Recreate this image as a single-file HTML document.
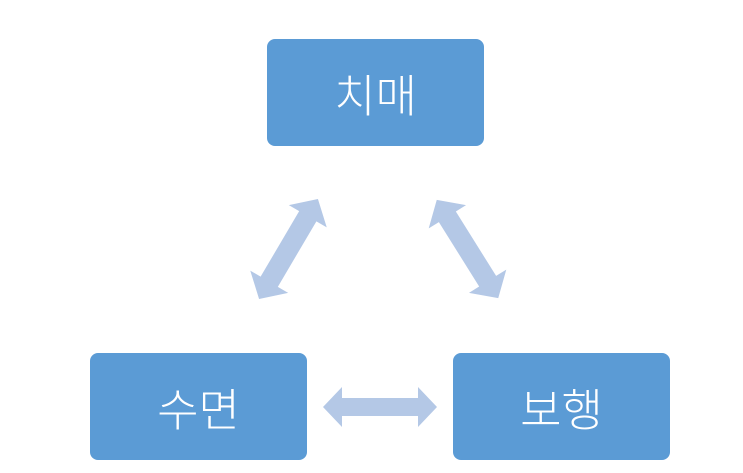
<!DOCTYPE html>
<html><head><meta charset="utf-8"><style>
body{margin:0;width:743px;height:473px;background:#fff;overflow:hidden;position:relative;font-family:"Noto Sans CJK KR","NanumGothic",sans-serif}
.b{position:absolute;width:217px;height:107px;background:#5B9BD5;border-radius:8px;color:#fff;font-size:45px;font-weight:300;display:flex;align-items:center;justify-content:center;line-height:1}
svg{position:absolute;left:0;top:0}
</style></head><body>
<div class="b" style="left:267px;top:39px">치매</div>
<div class="b" style="left:90px;top:353px">수면</div>
<div class="b" style="left:453px;top:353px">보행</div>
<svg width="743" height="473">
<defs>
<polygon id="a" points="-57,0 -38,-20 -38,-9 38,-9 38,-20 57,0 38,20 38,9 -38,9 -38,20" fill="#B4C8E6"/>
<polygon id="d" points="-58,0 -38,-22 -38,-10 38,-10 38,-22 58,0 38,22 38,10 -38,10 -38,22" fill="#B4C8E6"/>
</defs>
<use href="#a" transform="translate(380,407)"/>
<use href="#d" transform="translate(288.5,249) rotate(-59.5)"/>
<use href="#d" transform="translate(467.5,249) rotate(58)"/>
</svg>
</body></html>
